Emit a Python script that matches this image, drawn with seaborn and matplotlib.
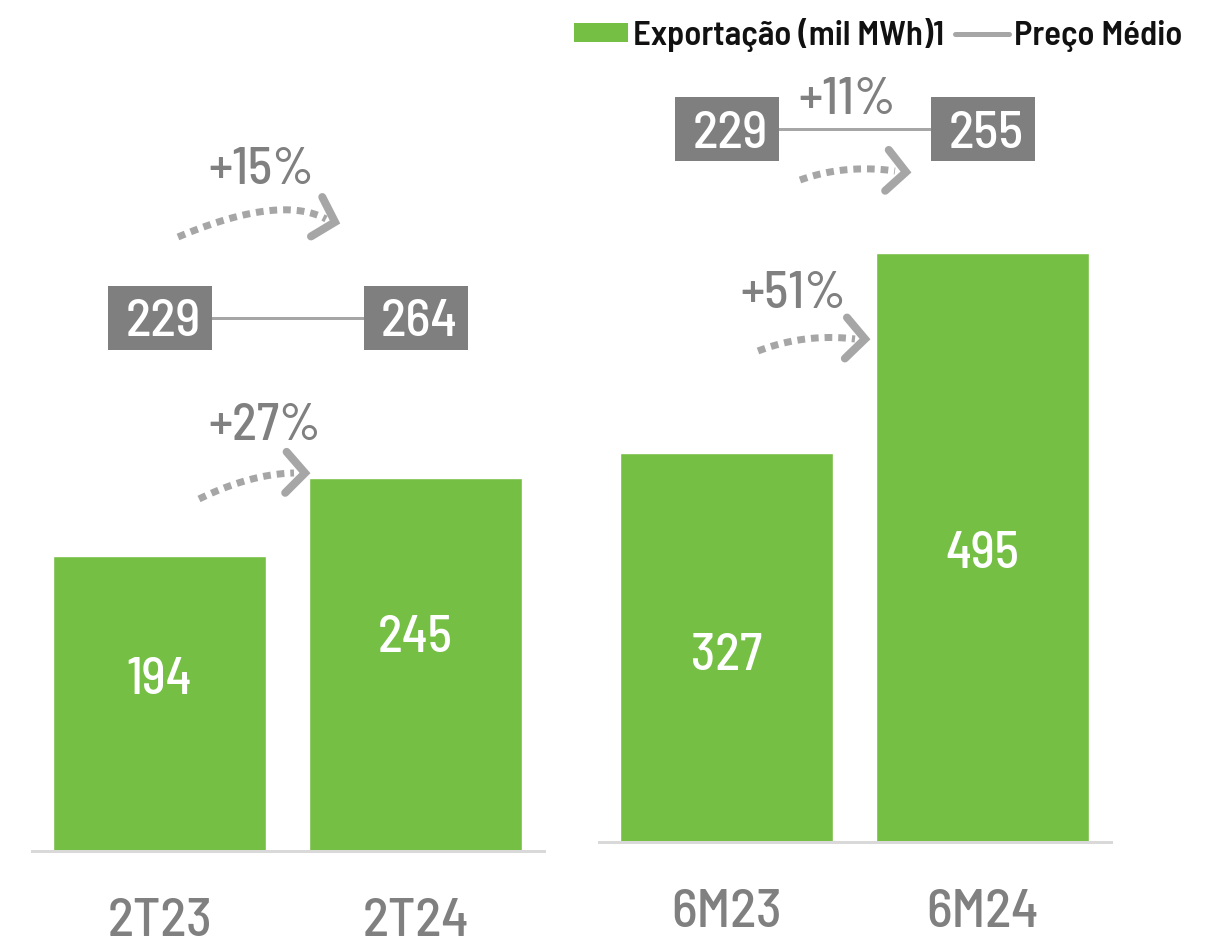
import matplotlib
matplotlib.use("Agg")
import matplotlib.pyplot as plt
import seaborn as sns
import numpy as np
import pandas as pd
from matplotlib.patches import Rectangle, Patch
from matplotlib.lines import Line2D
from matplotlib import font_manager as fm

# ---------------- data ----------------
cats_q = ["2T23", "2T24"]
export_q = [194, 245]
price_q = [229, 264]
growth_export_q = "+27%"
growth_price_q = "+15%"

cats_s = ["6M23", "6M24"]
export_s = [327, 495]
price_s = [229, 255]
growth_export_s = "+51%"
growth_price_s = "+11%"

legend_labels = ["Exportação (mil MWh)1", "Preço Médio"]

# ---------------- style ----------------
sns.set_theme(style="white")
available = set(f.name for f in fm.fontManager.ttflist)
cands = ["Barlow Semi Condensed", "Barlow Condensed", "Roboto Condensed",
         "Archivo Narrow", "Asap Condensed", "Liberation Sans"]
main = next((c for c in cands if c in available), "DejaVu Sans")
FONT = [main, "DejaVu Sans"]
plt.rcParams["font.family"] = FONT

GREEN = "#75BF44"
GRAY_TXT = "#808080"
GRAY_BOX = "#7F7F7F"
GRAY_ARR = "#A6A6A6"
AXLINE = "#D9D9D9"

W, H = 1207, 944
fig = plt.figure(figsize=(W / 100, H / 100), dpi=100)
fig.patch.set_facecolor("white")

PX = 100 / 72  # px per pt
BIG = 38
WGT = "medium"


def make_axes(left_px, width_px, base_px):
    return fig.add_axes([left_px / W, (H - base_px) / H, width_px / W, base_px / H])


def draw_panel(ax, cats, vals, prices, price_level, label_y, scale, top):
    df = pd.DataFrame({"cat": cats, "val": vals})
    sns.barplot(data=df, x="cat", y="val", color=GREEN, width=213 / 256,
                saturation=1, ax=ax, zorder=2)
    ax.set_xlim(-0.5, 1.5)
    ax.set_ylim(0, top)
    for s in ["left", "right", "top"]:
        ax.spines[s].set_visible(False)
    ax.spines["bottom"].set_color(AXLINE)
    ax.spines["bottom"].set_linewidth(3 / PX)
    ax.set_yticks([])
    ax.set_xlabel("")
    ax.set_ylabel("")
    ax.tick_params(axis="x", length=0, pad=34, labelsize=BIG + 1, labelcolor=GRAY_TXT)
    for t in ax.get_xticklabels():
        t.set_family(FONT)
        t.set_fontweight(WGT)
    ax.patch.set_alpha(0)
    # value labels inside bars
    for i, (v, yl) in enumerate(zip(vals, label_y)):
        ax.text(i, yl, str(v), ha="center", va="center_baseline", color="white",
                fontsize=BIG - 1, family=FONT, fontweight=WGT, zorder=5)
    # price line + boxes
    ax.plot([0, 1], [price_level, price_level], color=GRAY_ARR,
            lw=3 / PX, zorder=3, solid_capstyle="butt")
    bw = 104 / 256
    bh = 64 / scale
    for i, p in enumerate(prices):
        ax.add_patch(Rectangle((i - bw / 2, price_level - bh / 2), bw, bh,
                               facecolor=GRAY_BOX, edgecolor="none", zorder=4,
                               clip_on=False))
        ax.text(i + 0.015, price_level, str(p), ha="center", va="center_baseline",
                color="white", fontsize=BIG, family=FONT, fontweight=WGT, zorder=5)


# left panel (quarter)
sc_q = 1.521
ax1 = make_axes(31.5, 512, 851)
draw_panel(ax1, cats_q, export_q, price_q, (851 - 318) / sc_q,
           [(851 - 675) / sc_q, (851 - 633) / sc_q], sc_q, 851 / sc_q)

# right panel (semester)
sc_s = 1.19
ax2 = make_axes(598.5, 512, 842)
draw_panel(ax2, cats_s, export_s, price_s, (842 - 129) / sc_s,
           [(842 - 651) / sc_s, (842 - 550) / sc_s], sc_s, 842 / sc_s)

# ---------------- overlay for arrows & growth labels (pixel coords) ----------------
ov = fig.add_axes([0, 0, 1, 1], zorder=10)
ov.set_xlim(0, W)
ov.set_ylim(H, 0)
ov.axis("off")
ov.patch.set_alpha(0)


def curved_arrow(p0, pc, p1, tip, ang_deg):
    t = np.linspace(0, 1, 60)
    x = (1 - t) ** 2 * p0[0] + 2 * (1 - t) * t * pc[0] + t ** 2 * p1[0]
    y = (1 - t) ** 2 * p0[1] + 2 * (1 - t) * t * pc[1] + t ** 2 * p1[1]
    ov.plot(x, y, color=GRAY_ARR, lw=7 / PX, dashes=(1.1, 0.85),
            solid_capstyle="butt", dash_capstyle="butt")
    a = np.deg2rad(ang_deg)
    L = 28
    pts = []
    for s in (+1, -1):
        b = a + np.pi + s * np.deg2rad(47)
        pts.append((tip[0] + L * np.cos(b), tip[1] + L * np.sin(b)))
    ov.plot([pts[0][0], tip[0], pts[1][0]], [pts[0][1], tip[1], pts[1][1]],
            color=GRAY_ARR, lw=8 / PX, solid_capstyle="round",
            solid_joinstyle="miter")


curved_arrow((178, 237), (280, 194), (326, 219), (335, 222), 16)
curved_arrow((199, 499), (250, 474), (294, 473), (305, 473), 2)
curved_arrow((758, 351), (805, 333), (855, 339), (865, 339), 3)
curved_arrow((800, 180), (845, 164), (895, 171), (906, 172), 5)

for txt, (x, y) in [(growth_price_q, (261, 166)), (growth_export_q, (265, 421)),
                    (growth_export_s, (793, 290)), (growth_price_s, (847, 95))]:
    ov.text(x, y, txt, ha="center", va="center_baseline", color=GRAY_TXT,
            fontsize=BIG - 1, family=FONT, fontweight=WGT)

# ---------------- legend ----------------
handles = [Patch(facecolor=GREEN, edgecolor="none"),
           Line2D([0], [0], color=GRAY_ARR, lw=5 / PX, solid_capstyle="round")]
leg = fig.legend(handles, legend_labels, loc="upper right",
                 bbox_to_anchor=(1196 / W, 1 - 4 / H), ncol=2, frameon=False,
                 prop={"family": FONT, "size": 25, "weight": "semibold"},
                 handlelength=1.55, handleheight=0.5, handletextpad=0.15,
                 columnspacing=0.3, borderaxespad=0, labelcolor="#111111")

fig.savefig("out.png", dpi=100, facecolor="white")
